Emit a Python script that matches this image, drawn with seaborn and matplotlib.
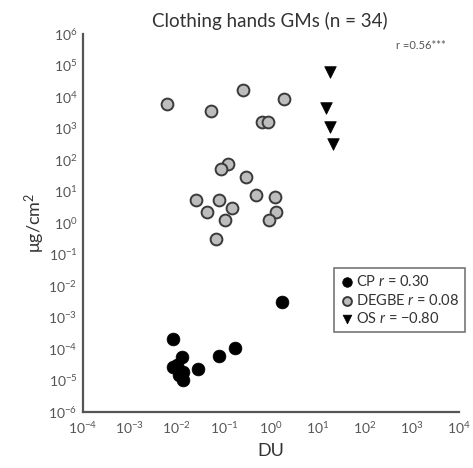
import numpy as np
import pandas as pd
import matplotlib
matplotlib.use("Agg")
import matplotlib.pyplot as plt
import seaborn as sns
from matplotlib.ticker import LogLocator, LogFormatterSciNotation, NullLocator

# ---- data ----
cp_du = [0.0083, 0.0126, 0.0083, 0.0135, 0.0135, 0.0275, 0.079, 0.17, 1.7, 0.010, 0.011]
cp_val = [2e-4, 5.4e-5, 2.75e-5, 1.8e-5, 1.05e-5, 2.3e-5, 6.2e-5, 1.1e-4, 3e-3, 3e-5, 1.5e-5]

degbe_du = [0.006, 0.052, 0.26, 1.9, 0.66, 0.87, 0.12, 0.087, 0.30, 0.025,
            0.079, 0.47, 1.2, 0.043, 0.15, 0.105, 1.3, 0.92, 0.068]
degbe_val = [6000, 3700, 1.7e4, 8700, 1650, 1650, 75, 52, 28, 5.5,
             5.5, 8, 6.8, 2.3, 2.9, 1.2, 2.3, 1.27, 0.30]

os_du = [18, 15, 18, 21]
os_val = [6e4, 4400, 1100, 320]

groups = ["CP", "DEGBE", "OS"]
legend_r = ["0.30", "0.08", "\u22120.80"]
title = "Clothing hands GMs (n = 34)"
overall_r = "r =0.56***"

df = pd.DataFrame({
    "DU": cp_du + degbe_du + os_du,
    "val": cp_val + degbe_val + os_val,
    "group": ["CP"] * len(cp_du) + ["DEGBE"] * len(degbe_du) + ["OS"] * len(os_du),
})

sns.set_style("white")
plt.rcParams["font.family"] = ["Lato", "DejaVu Sans"]
plt.rcParams["mathtext.fontset"] = "custom"
plt.rcParams["mathtext.rm"] = "Lato"
plt.rcParams["mathtext.it"] = "Lato:italic"
plt.rcParams["mathtext.default"] = "regular"

fig = plt.figure(figsize=(4.73, 4.68), dpi=100)
ax = fig.add_axes([0.1755, 0.1197, 0.7945, 0.8077])

styles = {
    "CP": dict(marker="o", s=85, color="black", edgecolor="black", linewidth=0.5),
    "DEGBE": dict(marker="o", s=72, color="#bdbdbd", edgecolor="#3a3a3a", linewidth=1.4),
    "OS": dict(marker="v", s=70, color="black", edgecolor="black", linewidth=0.5),
}
handles = []
for g, r in zip(groups, legend_r):
    sub = df[df["group"] == g]
    sns.scatterplot(data=sub, x="DU", y="val", ax=ax, legend=False, zorder=3, **styles[g])
    handles.append(ax.collections[-1])

ax.set_xscale("log")
ax.set_yscale("log")
ax.set_xlim(1e-4, 1e4)
ax.set_ylim(1e-6, 1e6)

ax.xaxis.set_major_locator(LogLocator(base=10, numticks=20))
ax.yaxis.set_major_locator(LogLocator(base=10, numticks=20))
ax.xaxis.set_minor_locator(NullLocator())
ax.yaxis.set_minor_locator(NullLocator())
ax.xaxis.set_major_formatter(LogFormatterSciNotation())
ax.yaxis.set_major_formatter(LogFormatterSciNotation())

for side in ["top", "right"]:
    ax.spines[side].set_visible(False)
for side in ["left", "bottom"]:
    ax.spines[side].set_color("#555555")
    ax.spines[side].set_linewidth(1.6)
ax.tick_params(axis="both", which="major", direction="in", length=11, width=1.6,
               color="#555555", labelsize=10, labelcolor="#555555", pad=4)
ax.tick_params(axis="x", pad=6)

ax.set_xlabel("DU", fontsize=13, color="#333333", labelpad=5)
ax.set_ylabel("\u03bcg/cm$^2$", fontsize=13, color="#333333", labelpad=1)
fig.text(0.57, 0.955, title, ha="center", va="center", fontsize=13.5, color="#333333")
ax.text(0.965, 0.985, overall_r, transform=ax.transAxes, ha="right", va="top",
        fontsize=8, color="#555555")

labels = [f"{g} $\\mathit{{r}}$ = {r}" for g, r in zip(groups, legend_r)]
leg = ax.legend(handles, labels, loc="upper right", bbox_to_anchor=(1.035, 0.40),
                fontsize=10.5, frameon=True, fancybox=False, handletextpad=0.1,
                borderpad=0.4, labelspacing=0.25, handlelength=1.0,
                edgecolor="#555555", markerscale=0.75)
leg.get_frame().set_linewidth(1.2)
for t in leg.get_texts():
    t.set_color("#333333")

fig.savefig("out.png", dpi=100)
